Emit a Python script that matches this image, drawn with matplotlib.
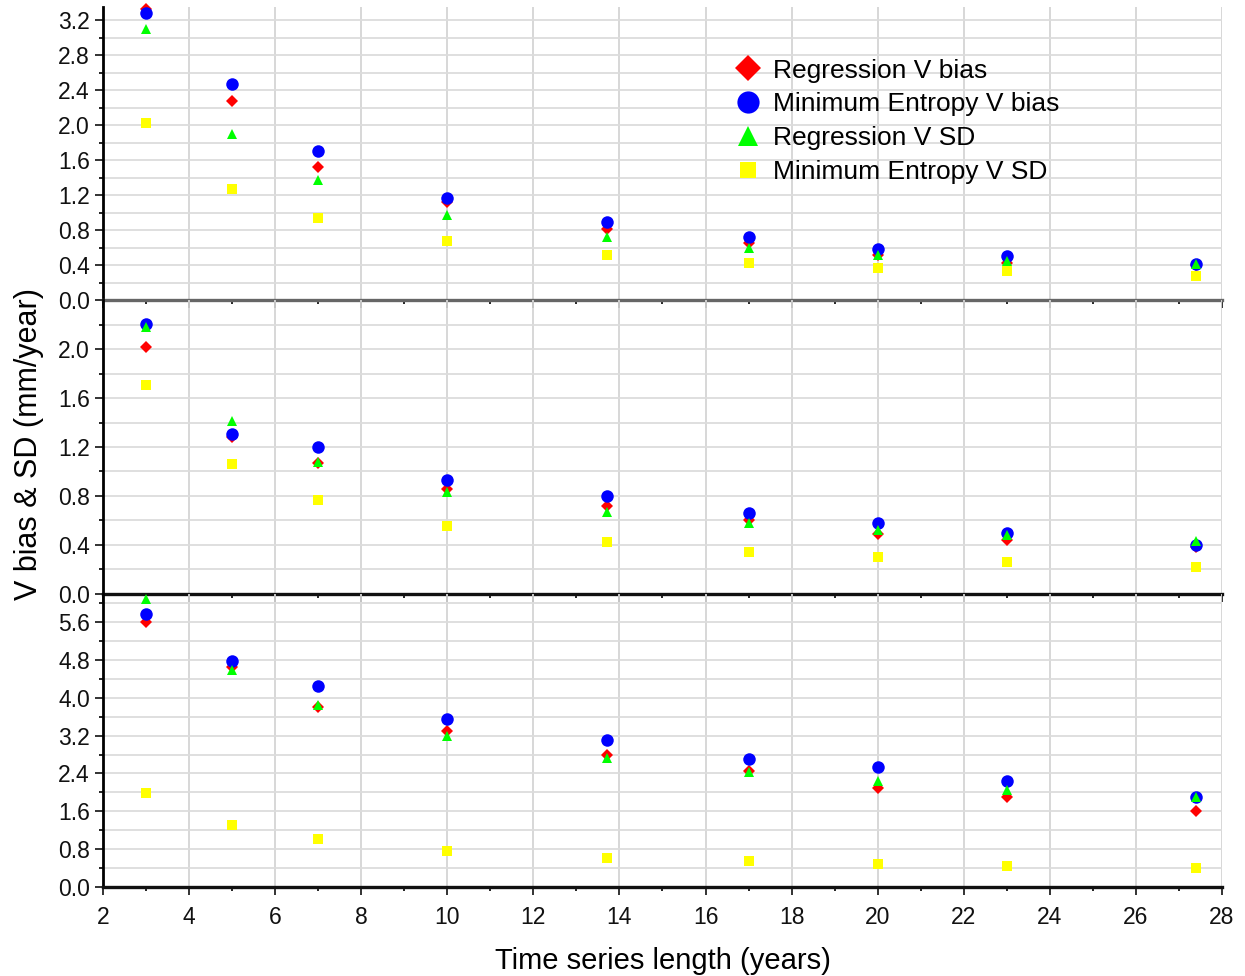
import numpy as np
import matplotlib
matplotlib.use("Agg")
import matplotlib.pyplot as plt
from matplotlib.lines import Line2D
from matplotlib.ticker import MultipleLocator, FormatStrFormatter

plt.rcParams['font.family'] = ['Liberation Sans', 'DejaVu Sans']

# === DATA ===
years = [3, 5, 7, 10, 13.7, 17, 20, 23, 27.4]

# top panel
reg_bias_1 = [3.33, 2.28, 1.52, 1.12, 0.81, 0.65, 0.52, 0.43, 0.40]
me_bias_1 = [3.28, 2.47, 1.71, 1.17, 0.90, 0.72, 0.59, 0.51, 0.42]
reg_sd_1 = [3.10, 1.90, 1.38, 0.97, 0.72, 0.60, 0.52, 0.45, 0.41]
me_sd_1 = [2.03, 1.27, 0.94, 0.68, 0.52, 0.43, 0.37, 0.33, 0.28]

# middle panel
reg_bias_2 = [2.02, 1.28, 1.07, 0.86, 0.72, 0.60, 0.49, 0.44, 0.38]
me_bias_2 = [2.21, 1.31, 1.20, 0.93, 0.80, 0.66, 0.58, 0.50, 0.40]
reg_sd_2 = [2.18, 1.41, 1.08, 0.83, 0.67, 0.58, 0.52, 0.48, 0.43]
me_sd_2 = [1.71, 1.06, 0.77, 0.55, 0.42, 0.34, 0.30, 0.26, 0.22]

# bottom panel
reg_bias_3 = [5.60, 4.65, 3.81, 3.29, 2.80, 2.45, 2.10, 1.91, 1.61]
me_bias_3 = [5.76, 4.78, 4.25, 3.55, 3.11, 2.71, 2.54, 2.24, 1.91]
reg_sd_3 = [6.08, 4.58, 3.85, 3.20, 2.73, 2.43, 2.24, 2.06, 1.91]
me_sd_3 = [1.99, 1.31, 1.02, 0.76, 0.62, 0.55, 0.49, 0.45, 0.40]

labels = ["Regression V bias", "Minimum Entropy V bias",
          "Regression V SD", "Minimum Entropy V SD"]

# (series..., ymax, major step, highest labelled tick)
panels = [
    (reg_bias_1, me_bias_1, reg_sd_1, me_sd_1, 3.35, 0.4, 3.2),
    (reg_bias_2, me_bias_2, reg_sd_2, me_sd_2, 2.40, 0.4, 2.0),
    (reg_bias_3, me_bias_3, reg_sd_3, me_sd_3, 6.20, 0.8, 5.6),
]

styles = [
    dict(marker='D', color='#ff0000', ms=6.5),
    dict(marker='o', color='#0000ff', ms=9),
    dict(marker='^', color='#00ff00', ms=7.5),
    dict(marker='s', color='#ffff00', ms=6.5),
]

fig = plt.figure(figsize=(12.45, 9.76), dpi=100)
gs = fig.add_gridspec(3, 1, left=0.0827, right=0.9815, top=0.9928,
                      bottom=0.0912, hspace=0)

axes = []
for i, (rb, mb, rs, ms_, ymax, step, ytop) in enumerate(panels):
    ax = fig.add_subplot(gs[i])
    ax.patch.set_visible(False)
    axes.append(ax)
    for vals, st in zip([rb, mb, rs, ms_], styles):
        ax.plot(years, vals, linestyle='none', marker=st['marker'],
                color=st['color'], markersize=st['ms'], markeredgewidth=0,
                clip_on=False, zorder=3)
    ax.set_xlim(2, 28)
    ax.set_ylim(0, ymax)
    ax.xaxis.set_major_locator(MultipleLocator(2))
    ax.xaxis.set_minor_locator(MultipleLocator(1))
    ax.set_yticks(np.arange(0, ytop + step / 2, step))
    ax.set_yticks(np.arange(0, ymax - 1e-6, step / 2), minor=True)
    ax.yaxis.set_major_formatter(FormatStrFormatter('%.1f'))
    ax.grid(True, which='major', axis='x', color='#d4d4d4', lw=1.3)
    ax.grid(True, which='both', axis='y', color='#dcdcdc', lw=1.3)
    ax.set_axisbelow(True)
    for s in ['top', 'right']:
        ax.spines[s].set_visible(False)
    ax.spines['left'].set_linewidth(2)
    ax.spines['bottom'].set_linewidth(2.4)
    ax.spines['bottom'].set_color('#111111' if i > 0 else '#666666')
    ax.tick_params(axis='both', which='major', direction='out', length=6,
                   width=1.2, labelsize=16.5, colors='#111111')
    ax.tick_params(axis='x', which='major', pad=8)
    ax.tick_params(axis='both', which='minor', direction='out', length=3,
                   width=1.2)
    if i < 2:
        ax.tick_params(axis='x', labelbottom=False)

axes[2].set_xlabel("Time series length (years)", fontsize=21, labelpad=13)
fig.text(0.023, 0.545, "V bias & SD (mm/year)", rotation=90, fontsize=22,
         va='center', ha='center')

handles = [
    Line2D([], [], linestyle='none', marker='D', color='#ff0000', ms=13, mew=0),
    Line2D([], [], linestyle='none', marker='o', color='#0000ff', ms=16, mew=0),
    Line2D([], [], linestyle='none', marker='^', color='#00ff00', ms=14, mew=0),
    Line2D([], [], linestyle='none', marker='s', color='#ffff00', ms=12, mew=0),
]
axes[0].legend(handles, labels, loc='upper left', bbox_to_anchor=(0.555, 0.86),
               frameon=False, fontsize=19, handlelength=1.0, handletextpad=0.45,
               labelspacing=0.37, borderaxespad=0)

fig.savefig("out.png", dpi=100)
